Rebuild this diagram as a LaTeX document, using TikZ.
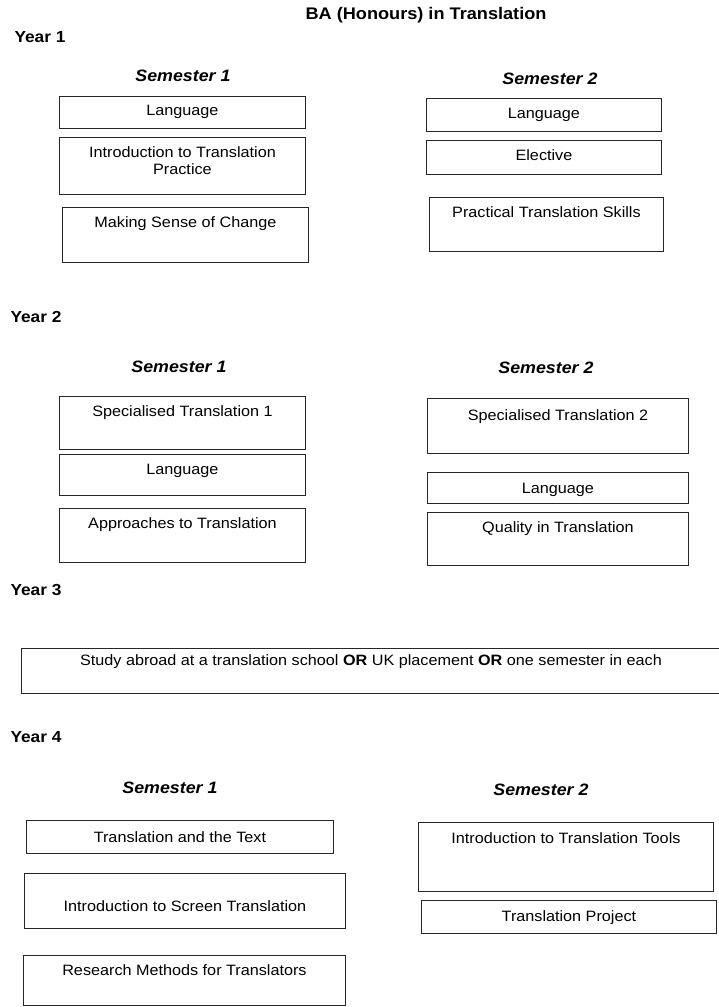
\documentclass[tikz,border=0pt]{standalone}
\usepackage{fontspec}
\setmainfont{Liberation Sans}[FakeStretch=1.08]
\begin{document}
\begin{tikzpicture}[x=1pt,y=-1pt,
  modbox/.style n args={3}{draw=black!85, line width=0.9pt, anchor=north west, inner sep=0pt,
    align=center, minimum width=#1pt, text height=#2pt, text depth=#3pt,
    font=\fontsize{15}{17}\selectfont},
  year/.style={anchor=west, font=\bfseries\fontsize{16}{18}\selectfont},
  sem/.style={font=\bfseries\itshape\fontsize{16.5}{18}\selectfont}]
\useasboundingbox (0,0) rectangle (719,1007);

\node[font=\bfseries\fontsize{16.8}{19}\selectfont] (title) at (426,15) {BA (Honours) in Translation};

% Year 1
\node[year] (y1) at (11,37) {Year 1};
\node[sem] (y1s1) at (183,76) {Semester 1};
\node[sem] (y1s2) at (550,79) {Semester 2};
\node[modbox={246}{19}{13}] (y1a) at (59,96) {Language};
\node[modbox={246}{37}{20}] (y1b) at (59,137) {Introduction to Translation\\Practice};
\node[modbox={246}{20}{35}] (y1c) at (62,207) {Making Sense of Change};
\node[modbox={235}{20}{13}] (y1d) at (426,98) {Language};
\node[modbox={235}{20}{14}] (y1e) at (426,140) {Elective};
\node[modbox={234}{20}{34}] (y1f) at (429,197) {Practical Translation Skills};

% Year 2
\node[year] (y2) at (7,317) {Year 2};
\node[sem] (y2s1) at (179,367) {Semester 1};
\node[sem] (y2s2) at (546,368) {Semester 2};
\node[modbox={246}{20}{33}] (y2a) at (59,396) {Specialised Translation 1};
\node[modbox={246}{20}{21}] (y2b) at (59,454) {Language};
\node[modbox={246}{20}{34}] (y2c) at (59,508) {Approaches to Translation};
\node[modbox={261}{22}{33}] (y2d) at (427,398) {Specialised Translation 2};
\node[modbox={261}{21}{10}] (y2e) at (427,472) {Language};
\node[modbox={261}{20}{33}] (y2f) at (427,512) {Quality in Translation};

% Year 3
\node[year] (y3) at (7,590) {Year 3};
\node[modbox={699}{17}{28}] (y3a) at (21,648) {Study abroad at a translation school \textbf{OR} UK placement \textbf{OR} one semester in each};

% Year 4
\node[year] (y4) at (7,737) {Year 4};
\node[sem] (y4s1) at (170,788) {Semester 1};
\node[sem] (y4s2) at (541,790) {Semester 2};
\node[modbox={307}{22}{11}] (y4a) at (26,820) {Translation and the Text};
\node[modbox={321}{38}{17}] (y4b) at (24,873) {Introduction to Screen Translation};
\node[modbox={322}{20}{30}] (y4c) at (23,955) {Research Methods for Translators};
\node[modbox={295}{21}{48}] (y4d) at (418,822) {Introduction to Translation Tools};
\node[modbox={295}{21}{12}] (y4e) at (421,900) {Translation Project};
\end{tikzpicture}
\end{document}
